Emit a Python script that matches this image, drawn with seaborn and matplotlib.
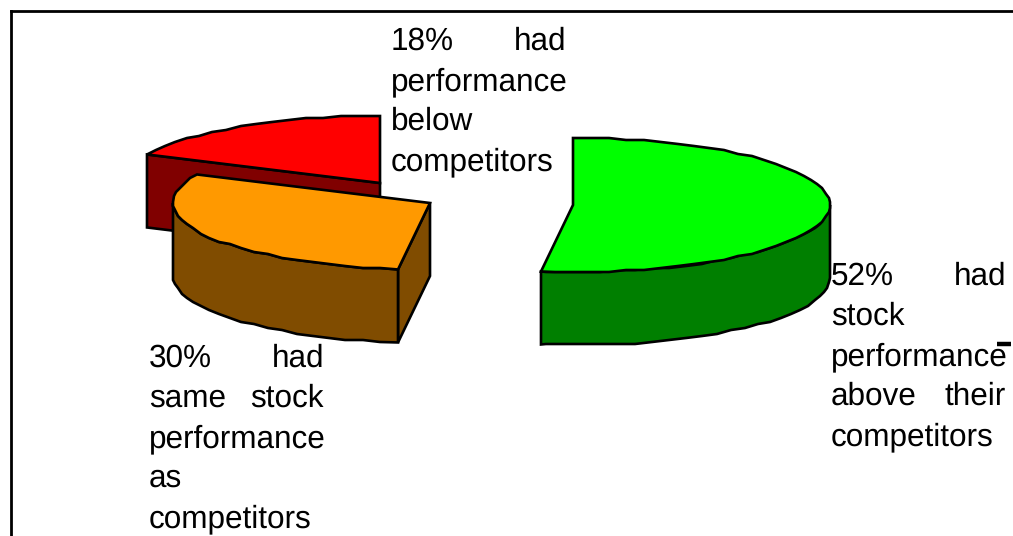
# exploded 3d style pie, stock performance vs competitors
import numpy as np
import matplotlib
matplotlib.use('Agg')
import matplotlib.pyplot as plt
from matplotlib.patches import Polygon
import seaborn as sns

# Data
shares = [52, 30, 18]
slice_names = ["above", "same", "below"]
top_colors = ["#00FF00", "#FF9900", "#FF0000"]
side_colors = ["#007F00", "#804C00", "#800000"]
label_lines = [
    ["52% had", "stock", "performance", "above their", "competitors"],
    ["30% had", "same stock", "performance", "as", "competitors"],
    ["18% had", "performance", "below", "competitors"],
]

sns.set_theme(style="white")
plt.rcParams['font.family'] = ['Liberation Sans', 'DejaVu Sans']
plt.rcParams['text.hinting'] = 'none'
plt.rcParams['text.hinting_factor'] = 8

# Layout in pixels of the 1013x536 picture
apex = {"above": (573, 205), "same": (430, 203), "below": (380, 183)}
rx, ry, depth = 257, 67, 73
label_left = [831, 149, 391]
label_right = [1006, 324, 566]
label_base = [285, 367, 50]
line_step = 40
font_size = 22.7

fig = plt.figure(figsize=(10.13, 5.36), dpi=100)
ax = fig.add_axes([0, 0, 1, 1])
ax.set_xlim(0, 1013)
ax.set_ylim(536, 0)
ax.axis("off")


def rim(name, a, b, drop=0):
    # points of the ellipse rim, angles clockwise from 12 o'clock
    cx, cy = apex[name]
    angles = np.append(np.arange(a, b, 4.0), b)
    x = cx + rx * np.sin(np.radians(angles))
    y = cy - ry * np.cos(np.radians(angles)) + drop
    # the original outline is a coarse polyline, its ends stay exact
    rough = np.round(y / 2) * 2
    rough[0], rough[-1] = y[0], y[-1]
    return np.column_stack([np.round(x), rough])


def shape(points, color):
    ax.add_patch(Polygon(points, closed=True, facecolor=color, edgecolor="black",
                         linewidth=1.9, joinstyle="miter"))


edges = np.cumsum([0] + shares) * 3.6
spans = {n: (edges[i], edges[i + 1]) for i, n in enumerate(slice_names)}


def draw_slice(i):
    name = slice_names[i]
    a, b = spans[name]
    cx, cy = apex[name]
    top = rim(name, a, b)
    if name == "above":
        # outer wall, from the right extreme round to the cut
        wall = rim(name, 90, b)
        low = rim(name, 90, b, depth)
        shape(np.vstack([wall, low[::-1]]), side_colors[i])
    if name == "same":
        # cut face on the right and outer wall on the left
        corner = rim(name, a, a + 0.01)[0]
        shape([(cx, cy), corner, (corner[0], corner[1] + depth), (cx, cy + depth)],
              side_colors[i])
        wall = rim(name, a, 270)
        low = rim(name, a, 270, depth)
        shape(np.vstack([wall, low[::-1]]), side_colors[i])
    if name == "below":
        # cut face towards the viewer
        corner = rim(name, a, a + 0.01)[0]
        shape([(cx, cy), corner, (corner[0], corner[1] + depth), (cx, cy + depth)],
              side_colors[i])
    shape(np.vstack([[(cx, cy)], top]), top_colors[i])


draw_slice(0)
draw_slice(2)
draw_slice(1)

# Justified labels, word by word
for lines, left, right, base in zip(label_lines, label_left, label_right, label_base):
    for n, line in enumerate(lines):
        y = base + n * line_step
        words = line.split()
        ax.text(left, y, words[0], fontsize=font_size, color="black", ha="left", va="baseline")
        if len(words) > 1:
            ax.text(right, y, words[1], fontsize=font_size, color="black", ha="right", va="baseline")

# Frame, only left and top show, and the stray dash
ax.plot([11, 11], [536, 10.5], color="black", lw=2, solid_capstyle="projecting")
ax.plot([11, 1013], [10.5, 10.5], color="black", lw=2, solid_capstyle="projecting")
ax.plot([997, 1011], [343.5, 343.5], color="black", lw=3.2, solid_capstyle="butt")

fig.savefig("out.png", dpi=100)
plt.close(fig)
